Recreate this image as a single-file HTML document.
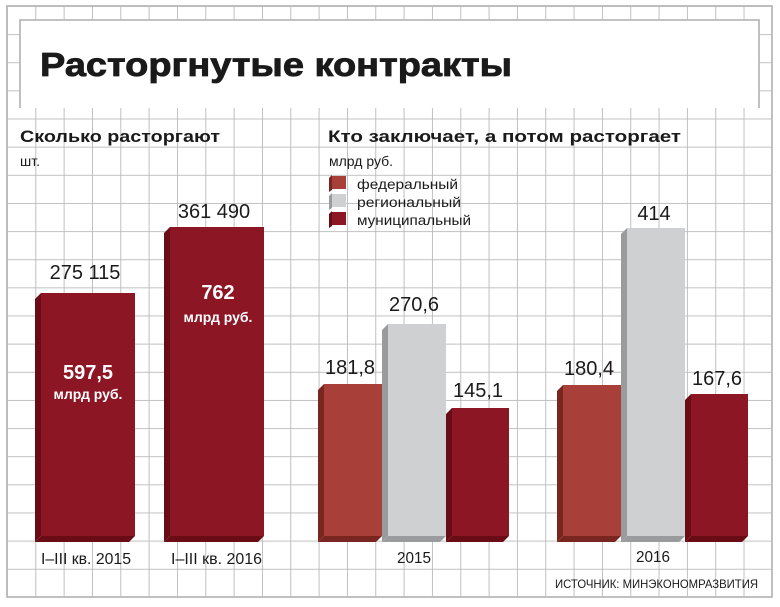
<!DOCTYPE html>
<html><head><meta charset="utf-8"><style>
html,body{margin:0;padding:0;background:#fff}
svg{display:block;font-family:"Liberation Sans","DejaVu Sans",sans-serif}
</style></head><body>
<svg width="780" height="607" viewBox="0 0 780 607" xmlns="http://www.w3.org/2000/svg">
<defs>
<pattern id="g" patternUnits="userSpaceOnUse" x="7" y="6" width="28.33" height="28.14">
<path d="M0 0V28.14M0 0H28.33" stroke="#b9b9b9" stroke-width="1.8" fill="none"/>
</pattern>
</defs>
<rect x="0" y="0" width="780" height="607" fill="#fff"/>
<rect x="7" y="6" width="765" height="591" fill="url(#g)"/>
<rect x="7" y="6" width="765" height="591" fill="none" stroke="#b9b9b9" stroke-width="1.8"/>
<rect x="20" y="20" width="739" height="88" fill="#fff"/>
<path d="M20 108V20H759V108" fill="none" stroke="#b9b9b9" stroke-width="1.8"/>
<text x="40" y="76" font-size="33" font-weight="bold" fill="#1a1a1a" stroke="#1a1a1a" stroke-width="0.8" textLength="472" lengthAdjust="spacingAndGlyphs">Расторгнутые контракты</text>

<text x="20" y="142" font-size="17" font-weight="bold" fill="#1a1a1a" textLength="200" lengthAdjust="spacingAndGlyphs">Сколько расторгают</text>
<text x="20" y="166" font-size="14" fill="#1a1a1a">шт.</text>
<text x="328" y="142" font-size="17" font-weight="bold" fill="#1a1a1a" textLength="353" lengthAdjust="spacingAndGlyphs">Кто заключает, а потом расторгает</text>
<text x="329" y="166" font-size="14" fill="#1a1a1a">млрд руб.</text>

<g>
<rect x="331" y="176" width="15" height="13" fill="#a83f38"/><path d="M329 178l3-3v15l-3 2z" fill="#78261f"/>
<rect x="331" y="194" width="15" height="13" fill="#cfd0d2"/><path d="M329 196l3-3v15l-3 2z" fill="#9a9b9d"/>
<rect x="331" y="212" width="15" height="13" fill="#8c1624"/><path d="M329 214l3-3v15l-3 2z" fill="#6a0c16"/>
<text x="357" y="189" font-size="14" fill="#1a1a1a" textLength="101" lengthAdjust="spacingAndGlyphs">федеральный</text>
<text x="357" y="207" font-size="14" fill="#1a1a1a" textLength="104" lengthAdjust="spacingAndGlyphs">региональный</text>
<text x="357" y="225" font-size="14" fill="#1a1a1a" textLength="114" lengthAdjust="spacingAndGlyphs">муниципальный</text>
</g>

<g>
<rect x="41" y="293" width="94" height="243" fill="#8c1624"/><path d="M35 299L41 293V536L35 542Z" fill="#6a0c16"/><path d="M35 542L41 536H135L129 542Z" fill="#6a0c16"/>
<rect x="170" y="227" width="94" height="309" fill="#8c1624"/><path d="M164 233L170 227V536L164 542Z" fill="#6a0c16"/><path d="M164 542L170 536H264L258 542Z" fill="#6a0c16"/>

<rect x="324" y="384" width="58" height="152" fill="#a83f38"/><path d="M318 390L324 384V536L318 542Z" fill="#78261f"/><path d="M318 542L324 536H382L376 542Z" fill="#78261f"/>
<rect x="388" y="324" width="58" height="212" fill="#cfd0d2"/><path d="M382 330L388 324V536L382 542Z" fill="#9a9b9d"/><path d="M382 542L388 536H446L440 542Z" fill="#9a9b9d"/>
<rect x="452" y="408" width="57" height="128" fill="#8c1624"/><path d="M446 414L452 408V536L446 542Z" fill="#6a0c16"/><path d="M446 542L452 536H509L503 542Z" fill="#6a0c16"/>

<rect x="563" y="385" width="58" height="151" fill="#a83f38"/><path d="M557 391L563 385V536L557 542Z" fill="#78261f"/><path d="M557 542L563 536H621L615 542Z" fill="#78261f"/>
<rect x="627" y="228" width="58" height="308" fill="#cfd0d2"/><path d="M621 234L627 228V536L621 542Z" fill="#9a9b9d"/><path d="M621 542L627 536H685L679 542Z" fill="#9a9b9d"/>
<rect x="691" y="394" width="57" height="142" fill="#8c1624"/><path d="M685 400L691 394V536L685 542Z" fill="#6a0c16"/><path d="M685 542L691 536H748L742 542Z" fill="#6a0c16"/>
</g>

<g font-size="20" fill="#1a1a1a" text-anchor="middle">
<text x="85" y="279">275 115</text>
<text x="214" y="218">361 490</text>
<text x="350" y="374">181,8</text>
<text x="414" y="311">270,6</text>
<text x="478" y="397">145,1</text>
<text x="589" y="375">180,4</text>
<text x="654" y="220">414</text>
<text x="717" y="385">167,6</text>
</g>
<g fill="#fff" font-weight="bold" text-anchor="middle">
<text x="88" y="379" font-size="20">597,5</text>
<text x="88" y="399" font-size="14">млрд руб.</text>
<text x="218" y="299" font-size="20">762</text>
<text x="218" y="322" font-size="14">млрд руб.</text>
</g>
<g font-size="16" fill="#1a1a1a">
<text x="41" y="564" textLength="90" lengthAdjust="spacingAndGlyphs">I–III кв. 2015</text>
<text x="171" y="564" textLength="91" lengthAdjust="spacingAndGlyphs">I–III кв. 2016</text>
<text x="414" y="563" text-anchor="middle" textLength="34" lengthAdjust="spacingAndGlyphs">2015</text>
<text x="653" y="562" text-anchor="middle" textLength="34" lengthAdjust="spacingAndGlyphs">2016</text>
</g>
<text x="555" y="588" font-size="12" fill="#1a1a1a" textLength="203" lengthAdjust="spacingAndGlyphs">ИСТОЧНИК: МИНЭКОНОМРАЗВИТИЯ</text>
</svg>
</body></html>
